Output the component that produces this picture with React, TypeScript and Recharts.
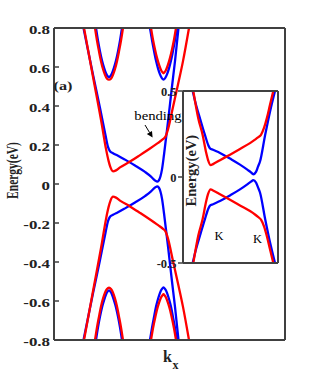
import React from 'react';
import { LineChart, Line, XAxis, YAxis, CartesianGrid } from 'recharts';

type P = { k: number; e: number };

const RED = '#ff0000';
const BLUE = '#0000ff';
const AXIS = '#404040';
const TXT = '#222222';
const SERIF = '"Liberation Serif", "Times New Roman", serif';

// ---------- main panel (k in arbitrary units, energy in eV) ----------
const mainYTicks = [-0.8, -0.6, -0.4, -0.2, 0, 0.2, 0.4, 0.6, 0.8];
const mainYTickLabels = ['-0.8', '-0.6', '-0.4', '-0.2', '0', '0.2', '0.4', '0.6', '0.8'];

const blueCondK = [29.5, 39, 46, 51.5, 54, 56, 59, 64, 71, 81, 91, 97, 101, 103.5, 105, 106.5, 108, 110, 114, 118, 121, 124.5];
const blueCondE = [0.8, 0.56, 0.39, 0.25, 0.19, 0.168, 0.158, 0.145, 0.125, 0.095, 0.062, 0.038, 0.018, 0.012, 0.02, 0.04, 0.075, 0.15, 0.32, 0.5, 0.63, 0.8];
const blueValE = [-0.8, -0.56, -0.39, -0.25, -0.19, -0.168, -0.158, -0.145, -0.125, -0.095, -0.062, -0.038, -0.018, -0.012, -0.02, -0.04, -0.075, -0.15, -0.32, -0.5, -0.63, -0.8];

const redCondK = [30, 39, 48, 52, 54.5, 56.5, 59, 62, 66, 76, 86, 96, 103, 106, 109, 111.5, 114, 119, 124, 129, 135];
const redCondE = [0.8, 0.55, 0.3, 0.18, 0.12, 0.085, 0.065, 0.07, 0.085, 0.115, 0.148, 0.182, 0.207, 0.218, 0.23, 0.243, 0.28, 0.395, 0.51, 0.63, 0.8];
const redValE = [-0.8, -0.55, -0.3, -0.18, -0.12, -0.085, -0.065, -0.07, -0.085, -0.115, -0.148, -0.182, -0.207, -0.218, -0.23, -0.243, -0.28, -0.395, -0.51, -0.63, -0.8];

// upper / lower pockets
const pocket1RedK = [41, 43, 45, 47, 49, 51, 53, 55, 57, 59, 61, 63, 65, 67, 69];
const pocket1RedUpE = [0.8, 0.735, 0.68, 0.63, 0.59, 0.56, 0.54, 0.535, 0.54, 0.56, 0.59, 0.63, 0.68, 0.735, 0.8];
const pocket1RedDownE = [-0.8, -0.735, -0.68, -0.628, -0.588, -0.557, -0.538, -0.532, -0.538, -0.557, -0.588, -0.628, -0.68, -0.735, -0.8];
const pocket1BlueK = [42, 44, 46, 48, 50, 52, 53.5, 55, 56.5, 58, 60, 62, 64, 66, 68];
const pocket1BlueUpE = [0.8, 0.735, 0.68, 0.633, 0.597, 0.568, 0.554, 0.547, 0.554, 0.568, 0.597, 0.633, 0.68, 0.735, 0.8];
const pocket1BlueDownE = [-0.8, -0.735, -0.68, -0.633, -0.597, -0.567, -0.552, -0.545, -0.552, -0.567, -0.597, -0.633, -0.68, -0.735, -0.8];

const pocket2BlueK = [96, 98, 100, 102, 104, 106, 108, 109.5, 111, 113, 115, 117, 119, 121, 123];
const pocket2BlueUpE = [0.8, 0.738, 0.683, 0.633, 0.593, 0.562, 0.542, 0.535, 0.542, 0.562, 0.593, 0.633, 0.683, 0.738, 0.8];
const pocket2BlueDownE = [-0.8, -0.738, -0.683, -0.63, -0.59, -0.558, -0.538, -0.53, -0.538, -0.558, -0.59, -0.63, -0.683, -0.738, -0.8];
const pocket2RedK = [97, 99, 101, 103, 105, 107, 108.5, 109.5, 110.5, 112, 114, 116, 118, 120, 122];
const pocket2RedUpE = [0.8, 0.74, 0.69, 0.647, 0.612, 0.585, 0.573, 0.568, 0.573, 0.585, 0.612, 0.647, 0.69, 0.74, 0.8];
const pocket2RedDownE = [-0.8, -0.74, -0.69, -0.645, -0.61, -0.582, -0.57, -0.565, -0.57, -0.582, -0.61, -0.645, -0.69, -0.74, -0.8];

// ---------- inset (zoom near the gap) ----------
const insetYTicks = [-0.5, 0, 0.5];
const insetYTickLabels = ['-0.5', '0', '0.5'];

const insetBlueK = [9.7, 13, 17, 22, 25.3, 27, 30, 37, 47, 57, 65, 68, 70.3, 73, 75, 77, 82, 87, 92];
const insetBlueCondE = [0.5, 0.42, 0.34, 0.243, 0.185, 0.166, 0.158, 0.14, 0.107, 0.072, 0.04, 0.027, 0.016, 0.03, 0.06, 0.09, 0.24, 0.38, 0.5];
const insetBlueValE = [-0.5, -0.42, -0.34, -0.243, -0.185, -0.166, -0.158, -0.14, -0.107, -0.072, -0.04, -0.027, -0.018, -0.032, -0.06, -0.09, -0.24, -0.38, -0.5];

const insetRedK = [10.3, 15.3, 19.7, 23, 25, 27.7, 30, 37, 47, 57, 67, 72, 75, 78, 81, 84, 87, 90.3];
const insetRedCondE = [0.5, 0.34, 0.243, 0.146, 0.1, 0.069, 0.075, 0.098, 0.13, 0.163, 0.197, 0.217, 0.23, 0.245, 0.285, 0.345, 0.42, 0.5];
const insetRedValE = [-0.5, -0.34, -0.243, -0.146, -0.1, -0.072, -0.078, -0.1, -0.132, -0.165, -0.198, -0.218, -0.232, -0.248, -0.287, -0.347, -0.42, -0.5];

const pts = (k: number[], e: number[]): P[] => k.map((kk, i) => ({ k: kk, e: e[i] }));

const mainSeries = [
  { id: 'bc', color: BLUE, data: pts(blueCondK, blueCondE) },
  { id: 'bv', color: BLUE, data: pts(blueCondK, blueValE) },
  { id: 'p1bu', color: BLUE, data: pts(pocket1BlueK, pocket1BlueUpE) },
  { id: 'p1bd', color: BLUE, data: pts(pocket1BlueK, pocket1BlueDownE) },
  { id: 'p2bu', color: BLUE, data: pts(pocket2BlueK, pocket2BlueUpE) },
  { id: 'p2bd', color: BLUE, data: pts(pocket2BlueK, pocket2BlueDownE) },
  { id: 'rc', color: RED, data: pts(redCondK, redCondE) },
  { id: 'rv', color: RED, data: pts(redCondK, redValE) },
  { id: 'p1ru', color: RED, data: pts(pocket1RedK, pocket1RedUpE) },
  { id: 'p1rd', color: RED, data: pts(pocket1RedK, pocket1RedDownE) },
  { id: 'p2ru', color: RED, data: pts(pocket2RedK, pocket2RedUpE) },
  { id: 'p2rd', color: RED, data: pts(pocket2RedK, pocket2RedDownE) },
];

const insetSeries = [
  { id: 'ibc', color: BLUE, data: pts(insetBlueK, insetBlueCondE) },
  { id: 'ibv', color: BLUE, data: pts(insetBlueK, insetBlueValE) },
  { id: 'irc', color: RED, data: pts(insetRedK, insetRedCondE) },
  { id: 'irv', color: RED, data: pts(insetRedK, insetRedValE) },
];

const label = (ticks: number[], labels: string[], v: number) => {
  const i = ticks.findIndex((t) => Math.abs(t - v) < 1e-9);
  return i >= 0 ? labels[i] : String(v);
};

const MainLeftTick = (props: any) => {
  const { x, y, payload } = props;
  return (
    <g>
      <line x1={x + 4} x2={x + 9} y1={y} y2={y} stroke={AXIS} strokeWidth={1.5} />
      <text
        x={0}
        y={0}
        transform={`translate(${x},${y + 6}) scale(1.35,1)`}
        textAnchor="end"
        fontFamily={SERIF}
        fontWeight="bold"
        fontSize={12.5}
        fill={TXT}
      >
        {label(mainYTicks, mainYTickLabels, payload.value)}
      </text>
    </g>
  );
};

const MainRightTick = (props: any) => {
  const { x, y } = props;
  return <line x1={x - 6} x2={x} y1={y} y2={y} stroke={AXIS} strokeWidth={1.5} />;
};

const InsetLeftTick = (props: any) => {
  const { x, y, payload } = props;
  return (
    <text x={x} y={y + 4.8} textAnchor="end" fontFamily={SERIF} fontWeight="bold" fontSize={12.5} fill={TXT}>
      {label(insetYTicks, insetYTickLabels, payload.value)}
    </text>
  );
};

export default function App() {
  return (
    <div style={{ position: 'absolute', left: 0, top: 0, width: 316, height: 382, background: '#fff' }}>
      <div style={{ position: 'absolute', left: 0, top: 0 }}>
        <LineChart width={316} height={382} margin={{ top: 27, right: 30, bottom: 41, left: 10 }}>
          <XAxis xAxisId="b" type="number" dataKey="k" domain={[0, 231]} orientation="bottom" height={1}
            tick={false} tickLine={false} axisLine={{ stroke: AXIS, strokeWidth: 2 }} />
          <XAxis xAxisId="t" type="number" dataKey="k" domain={[0, 231]} orientation="top" height={1}
            tick={false} tickLine={false} axisLine={{ stroke: AXIS, strokeWidth: 2 }} />
          <YAxis yAxisId="l" type="number" domain={[-0.8, 0.8]} ticks={mainYTicks} width={44}
            tickSize={0} tickMargin={4} tickLine={false} tick={<MainLeftTick />} interval={0}
            axisLine={{ stroke: AXIS, strokeWidth: 2 }} />
          <YAxis yAxisId="r" type="number" orientation="right" domain={[-0.8, 0.8]} ticks={mainYTicks} width={1}
            tickSize={0} tickMargin={0} tickLine={false} tick={<MainRightTick />} interval={0}
            axisLine={{ stroke: AXIS, strokeWidth: 2 }} />
          {mainSeries.map((s) => (
            <Line key={s.id} xAxisId="b" yAxisId="l" data={s.data} dataKey="e" type="monotone"
              stroke={s.color} strokeWidth={2.3} dot={false} activeDot={false} isAnimationActive={false} />
          ))}
        </LineChart>
      </div>

      <div style={{ position: 'absolute', left: 150, top: 80 }}>
        <LineChart width={135} height={195} margin={{ top: 10, right: 6, bottom: 11, left: 3 }}>
          <CartesianGrid horizontal={false} vertical={false} fill="#ffffff" xAxisId="b" yAxisId="l" />
          <XAxis xAxisId="b" type="number" dataKey="k" domain={[0, 95]} orientation="bottom" height={1}
            tick={false} tickLine={false} axisLine={{ stroke: AXIS, strokeWidth: 2 }} />
          <XAxis xAxisId="t" type="number" dataKey="k" domain={[0, 95]} orientation="top" height={1}
            tick={false} tickLine={false} axisLine={{ stroke: AXIS, strokeWidth: 2 }} />
          <YAxis yAxisId="l" type="number" domain={[-0.5, 0.5]} ticks={insetYTicks} width={30}
            tickSize={5} tickMargin={1.5} tickLine={{ stroke: AXIS, strokeWidth: 1.5 }} tick={<InsetLeftTick />} interval={0}
            axisLine={{ stroke: AXIS, strokeWidth: 2 }} />
          <YAxis yAxisId="r" type="number" orientation="right" domain={[-0.5, 0.5]} ticks={insetYTicks} width={1}
            tick={false} tickLine={false} axisLine={{ stroke: AXIS, strokeWidth: 2 }} />
          {insetSeries.map((s) => (
            <Line key={s.id} xAxisId="b" yAxisId="l" data={s.data} dataKey="e" type="monotone"
              stroke={s.color} strokeWidth={2.3} dot={false} activeDot={false} isAnimationActive={false} />
          ))}
        </LineChart>
      </div>

      <svg width={316} height={382} style={{ position: 'absolute', left: 0, top: 0, pointerEvents: 'none' }}>
        <text x={0} y={0} transform="translate(12,170.5) scale(1.45,1) rotate(-90)" textAnchor="middle"
          dominantBaseline="central" fontFamily={SERIF} fontWeight="bold" fontSize={11.5} fill={TXT}>
          Energy(eV)
        </text>
        <text x={163} y={362} fontFamily={SERIF} fontWeight="bold" fontSize={16} fill={TXT}>k</text>
        <text x={172.5} y={369} fontFamily={SERIF} fontWeight="bold" fontSize={12} fill={TXT}>x</text>
        <text x={0} y={0} transform="translate(53.5,89.5) scale(1.35,1)" fontFamily={SERIF} fontWeight="bold"
          fontSize={12} fill={TXT}>(a)</text>
        <text x={0} y={0} transform="translate(134.3,120) scale(1.28,1)" fontFamily={SERIF}
          fontSize={11.5} fill="#000">bending</text>
        <line x1={145} y1={125} x2={149.6} y2={132.6} stroke="#000" strokeWidth={1} />
        <polygon points="152.6,137.6 146.8,133.9 152.0,130.9" fill="#000" />
        <text x={0} y={0} transform="translate(191,170.7) rotate(-90)" textAnchor="middle"
          dominantBaseline="central" fontFamily={SERIF} fontWeight="bold" fontSize={14.5} fill={TXT}>
          Energy(eV)
        </text>
        <text x={219} y={240} textAnchor="middle" fontFamily={SERIF} fontSize={12.5} fill="#000">K</text>
        <text x={257.5} y={242.5} textAnchor="middle" fontFamily={SERIF} fontSize={12.5} fill="#000">K</text>
      </svg>
    </div>
  );
}
